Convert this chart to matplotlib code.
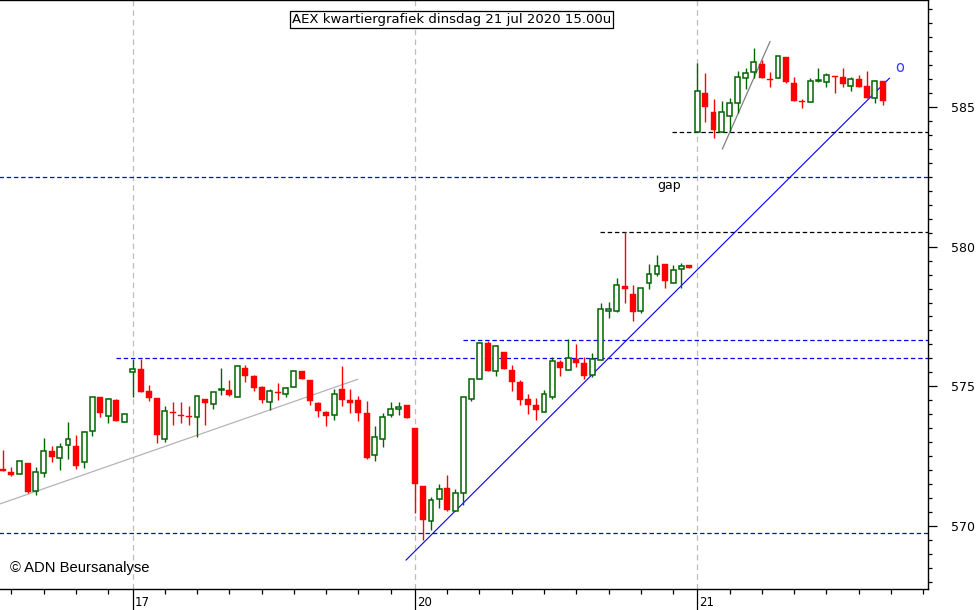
import matplotlib
matplotlib.use("Agg")
import matplotlib.pyplot as plt
import matplotlib.transforms as mtransforms
import numpy as np

plt.rcParams['lines.scale_dashes'] = False

# ---------------- data ----------------
# bar index: 0 = first 15-min bar of Fri 17 Jul, 35 bars per trading day
bar_start = -16
opens = [572.04, 571.94, 571.85, 572.24, 571.25, 571.89, 572.68, 572.42, 572.89, 572.86,
         572.28, 573.40, 574.61, 573.94, 574.51, 573.71,
         575.50, 575.62, 574.83, 574.57, 573.10, 574.09, 573.98, 573.94, 573.89, 574.55,
         574.37, 574.87, 574.87, 574.63, 575.66, 575.37, 574.97, 574.45, 574.81, 574.71,
         574.96, 575.54, 575.23, 574.41, 574.09, 573.96, 574.90, 574.51, 574.51, 574.06,
         572.54, 573.10, 573.97, 574.18, 574.33,
         573.51, 571.43, 570.19, 570.96, 571.36, 570.55, 571.19, 574.54, 575.25, 576.54,
         575.54, 576.23, 575.59, 575.17, 574.55, 574.33, 574.09, 574.61, 575.86, 575.57,
         575.98, 575.82, 575.40, 575.93, 577.69, 577.70, 578.58, 578.31, 577.70, 578.69,
         579.01, 579.38, 578.69, 579.19, 579.34,
         584.09, 585.51, 584.83, 584.09, 584.69, 585.13, 586.05, 586.26, 586.54, 586.00,
         586.03, 586.80, 585.85, 585.23, 585.19, 585.93, 585.88, 586.11, 586.06, 585.76,
         585.99, 585.75, 585.31, 585.93]
highs = [572.72, 572.12, 572.33, 572.24, 572.11, 573.14, 572.86, 572.97, 573.71, 573.26,
         573.41, 574.61, 574.61, 574.57, 574.55, 574.01,
         575.98, 575.98, 575.05, 574.57, 574.29, 574.44, 574.44, 574.29, 574.64, 574.55,
         574.79, 575.66, 575.23, 575.76, 575.76, 575.42, 575.01, 574.90, 575.13, 574.97,
         575.54, 575.54, 575.23, 574.45, 574.13, 574.90, 575.73, 574.90, 574.66, 574.47,
         573.58, 574.03, 574.43, 574.43, 574.33,
         573.51, 571.43, 571.05, 571.49, 571.83, 571.31, 574.61, 575.25, 576.59, 576.62,
         576.49, 576.23, 575.76, 575.23, 574.72, 574.59, 574.87, 576.06, 575.94, 576.69,
         576.50, 576.06, 576.18, 577.97, 578.01, 578.87, 580.51, 578.63, 578.51, 579.38,
         579.70, 579.38, 579.33, 579.40, 579.34,
         586.56, 586.21, 585.29, 585.21, 585.33, 586.29, 586.41, 587.10, 586.68, 586.24,
         586.84, 586.80, 586.08, 585.29, 586.05, 586.38, 586.21, 586.11, 586.41, 586.08,
         586.15, 586.29, 585.97, 585.93]
lows = [571.97, 571.80, 571.85, 571.17, 571.10, 571.76, 572.28, 572.00, 572.40, 572.03,
        572.06, 573.23, 573.89, 573.70, 573.77, 573.71,
        574.63, 574.81, 574.48, 572.98, 573.02, 573.63, 573.70, 573.63, 573.17, 573.63,
        574.17, 574.69, 574.66, 574.63, 575.16, 574.84, 574.41, 574.15, 574.51, 574.63,
        574.96, 575.25, 574.33, 573.91, 573.59, 573.79, 574.31, 574.06, 573.77, 572.39,
        572.34, 572.84, 573.89, 573.97, 573.88,
        570.48, 569.50, 569.86, 570.65, 570.55, 570.55, 570.75, 574.47, 575.25, 575.56,
        575.38, 575.63, 574.84, 574.33, 574.01, 573.79, 574.09, 574.54, 575.38, 575.57,
        575.70, 575.26, 575.34, 575.93, 577.46, 577.65, 577.97, 577.35, 577.61, 578.48,
        578.96, 578.53, 578.69, 578.51, 579.22,
        584.09, 584.47, 583.88, 584.09, 584.12, 584.77, 585.64, 586.03, 586.03, 585.70,
        586.03, 585.85, 585.23, 584.97, 585.19, 585.88, 585.70, 585.51, 585.73, 585.58,
        585.73, 585.33, 585.15, 585.07]
closes = [571.97, 571.83, 572.33, 571.23, 571.92, 572.67, 572.46, 572.84, 573.12, 572.16,
          573.35, 574.61, 574.03, 574.54, 573.77, 574.01,
          575.62, 574.81, 574.59, 573.26, 574.11, 574.03, 573.95, 573.90, 574.64, 574.39,
          574.79, 574.90, 574.70, 575.73, 575.38, 574.95, 574.51, 574.82, 574.77, 574.94,
          575.54, 575.25, 574.48, 574.13, 573.95, 574.72, 574.52, 574.39, 574.06, 572.45,
          573.20, 573.89, 574.18, 574.25, 573.88,
          571.49, 570.21, 570.92, 571.33, 570.57, 571.19, 574.61, 575.25, 576.54, 575.56,
          576.44, 575.63, 575.17, 574.51, 574.33, 574.15, 574.71, 575.90, 575.67, 576.00,
          575.85, 575.38, 575.97, 577.76, 577.76, 578.62, 578.49, 577.65, 578.51, 579.01,
          579.30, 578.78, 579.15, 579.32, 579.22,
          585.57, 585.01, 584.19, 584.81, 585.13, 586.06, 586.21, 586.60, 586.03, 585.96,
          586.84, 585.88, 585.23, 585.17, 585.93, 585.96, 586.15, 586.06, 585.81, 585.99,
          585.73, 585.33, 585.93, 585.23]

day_starts = [-35, 0, 35, 70]
day_labels = ["", "17", "20", "21"]
bars_per_day = 35

# horizontal support/resistance lines: (level, start bar)
hlines_blue = [(576.00, -2.05), (576.65, 40.9), (569.75, -17), (582.49, -17)]
hlines_black = [(580.51, 57.9), (584.09, 66.9)]

# trend lines (bar, price)
trend_gray1 = ([-16.42, 27.9], [570.79, 575.25])
trend_blue = ([33.9, 93.8], [568.78, 586.03])
trend_gray2 = ([73.1, 79.0], [583.50, 587.34])

title = "AEX kwartiergrafiek dinsdag 21 jul 2020 15.00u"

# ---------------- figure ----------------
W, H = 979, 610
fig = plt.figure(figsize=(W / 100, H / 100), dpi=100)
ax = fig.add_axes([0, 21 / H, 928 / W, 589 / H])

xmin, xmax = -16.42, 98.58
ymin, ymax = 567.743, 588.831
ax.set_xlim(xmin, xmax)
ax.set_ylim(ymin, ymax)

GREEN = '#006400'
RED = '#ff0000'

# day separators
for d in day_starts:
    if xmin < d < xmax:
        ax.axvline(d, color='#bdbdbd', lw=0.9, dashes=(4, 3), zorder=1)

# horizontal lines
for lvl, st in hlines_blue:
    ax.plot([st, xmax], [lvl, lvl], color='#0000ff', lw=0.9, dashes=(3.2, 2), zorder=2)
for lvl, st in hlines_black:
    ax.plot([st, xmax], [lvl, lvl], color='#000000', lw=0.9, dashes=(3.2, 2), zorder=2)

# trend lines
ax.plot(*trend_gray1, color='#b4b4b4', lw=0.9, zorder=2)
ax.plot(*trend_gray2, color='#808080', lw=0.9, zorder=2)
ax.plot(*trend_blue, color='#0000ff', lw=0.8, zorder=2)

# candles
idx = np.arange(bar_start, bar_start + len(opens))
o = np.array(opens); h = np.array(highs); l = np.array(lows); c = np.array(closes)
up = c >= o
dn = ~up
ax.vlines(idx[up], l[up], h[up], color=GREEN, lw=1.0, zorder=3)
ax.vlines(idx[dn], l[dn], h[dn], color=RED, lw=1.0, zorder=3)
ax.bar(idx[up], np.maximum(c[up] - o[up], 0.03), bottom=o[up], width=0.6,
       facecolor='white', edgecolor=GREEN, linewidth=1.1, zorder=4)
ax.bar(idx[dn], np.maximum(o[dn] - c[dn], 0.03), bottom=c[dn], width=0.74,
       facecolor=RED, edgecolor=RED, linewidth=0.3, zorder=4)

# texts
ax.text(95.1, 586.4, "o", color='#3a3aff', fontsize=10.5, ha='center', va='center', zorder=5)
ax.text(66.5, 582.2, "gap", color='black', fontsize=9, ha='center', va='center', zorder=5)
ax.text(-15.2, 568.5, "\u00a9 ADN Beursanalyse", color='black', fontsize=10.6,
        family='Liberation Sans', ha='left', va='center', zorder=5)
fig.text(451.5 / W, 1 - 19.5 / H, title, fontsize=9.5, ha='center', va='center',
         bbox=dict(boxstyle='square,pad=0.15', facecolor='white', edgecolor='black', lw=0.9))

# spines
ax.spines['left'].set_visible(False)
for s in ['top', 'right', 'bottom']:
    ax.spines[s].set_linewidth(1.0)
    ax.spines[s].set_color('black')

# y axis on the right
ax.yaxis.tick_right()
ax.set_yticks([570, 575, 580, 585])
ax.set_yticks(np.arange(568, 588.6, 0.5), minor=True)
ax.tick_params(axis='y', which='major', direction='out', length=6.3, width=0.9,
               pad=10.5, labelsize=9)
ax.tick_params(axis='y', which='minor', direction='out', length=3, width=0.9)

# x axis ticks
ax.set_xticks([d for d in day_starts if xmin < d < xmax])
ax.set_xticklabels([])
minor = []
for d in day_starts:
    for k in range(1, 9):
        p = d + 4 * k
        if xmin < p < xmax:
            minor.append(p)
ax.set_xticks(minor, minor=True)
ax.tick_params(axis='x', which='major', direction='out', length=16, width=0.9)
ax.tick_params(axis='x', which='minor', direction='out', length=3.6, width=0.9)

trans = mtransforms.blended_transform_factory(ax.transData, ax.transAxes)
for d, lab in zip(day_starts, day_labels):
    if lab and xmin < d < xmax:
        ax.text(d + 0.25, -14 / 589, lab, transform=trans, fontsize=8.5,
                ha='left', va='center', clip_on=False)

fig.savefig('out.png', dpi=100)
